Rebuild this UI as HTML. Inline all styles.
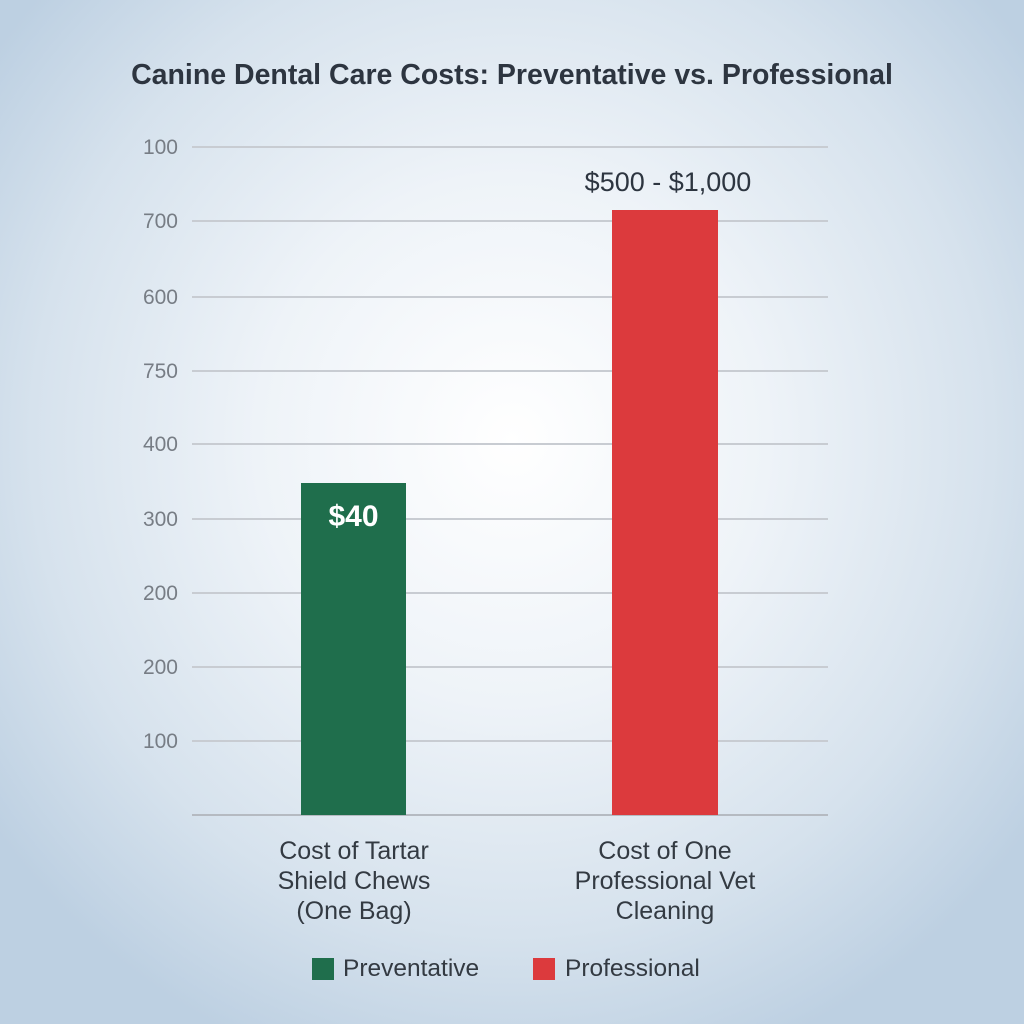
<!DOCTYPE html>
<html><head><style>
html,body{margin:0;padding:0}
body{width:1024px;height:1024px;position:relative;overflow:hidden;font-family:"Liberation Sans",sans-serif;
background:radial-gradient(ellipse 640px 660px at 512px 440px,#ffffff 0%,#eef3f8 40%,#d6e2ed 75%,#bdd0e2 100%);}
.t{position:absolute;white-space:nowrap}
.g{position:absolute;left:192px;width:636px;height:2px;background:#c8ccd2}
.yl{position:absolute;left:115px;width:63px;text-align:right;font-size:21px;color:#777d85}
.cat{position:absolute;width:280px;text-align:center;font-size:25px;line-height:30px;color:#333a42}
</style></head><body>
<div class="t" style="left:0;width:1024px;text-align:center;top:59px;font-size:28.5px;font-weight:bold;color:#2d3540">Canine Dental Care Costs: Preventative vs. Professional</div>
<div class="g" style="top:146px"></div>
<div class="g" style="top:220px"></div>
<div class="g" style="top:296px"></div>
<div class="g" style="top:370px"></div>
<div class="g" style="top:443px"></div>
<div class="g" style="top:518px"></div>
<div class="g" style="top:592px"></div>
<div class="g" style="top:666px"></div>
<div class="g" style="top:740px"></div>
<div class="g" style="top:814px;background:#b5bac1"></div>
<div class="yl" style="top:136px">100</div>
<div class="yl" style="top:210px">700</div>
<div class="yl" style="top:286px">600</div>
<div class="yl" style="top:360px">750</div>
<div class="yl" style="top:433px">400</div>
<div class="yl" style="top:508px">300</div>
<div class="yl" style="top:582px">200</div>
<div class="yl" style="top:656px">200</div>
<div class="yl" style="top:730px">100</div>
<div style="position:absolute;left:301px;top:483px;width:105px;height:332px;background:#1f6e4c"></div>
<div style="position:absolute;left:612px;top:210px;width:106px;height:605px;background:#dc3a3d"></div>
<div class="t" style="left:301px;width:105px;text-align:center;top:500px;font-size:30px;font-weight:bold;color:#fff">$40</div>
<div class="t" style="left:545px;width:246px;text-align:center;top:167px;font-size:27px;color:#2d3540">$500 - $1,000</div>
<div class="cat" style="left:214px;top:836px">Cost of Tartar<br>Shield Chews<br>(One Bag)</div>
<div class="cat" style="left:525px;top:836px">Cost of One<br>Professional Vet<br>Cleaning</div>
<div style="position:absolute;left:312px;top:958px;width:22px;height:22px;background:#1f6e4c"></div>
<div class="t" style="left:343px;top:955px;font-size:24.5px;color:#333a42">Preventative</div>
<div style="position:absolute;left:533px;top:958px;width:22px;height:22px;background:#dc3a3d"></div>
<div class="t" style="left:565px;top:955px;font-size:24.5px;color:#333a42">Professional</div>
</body></html>
